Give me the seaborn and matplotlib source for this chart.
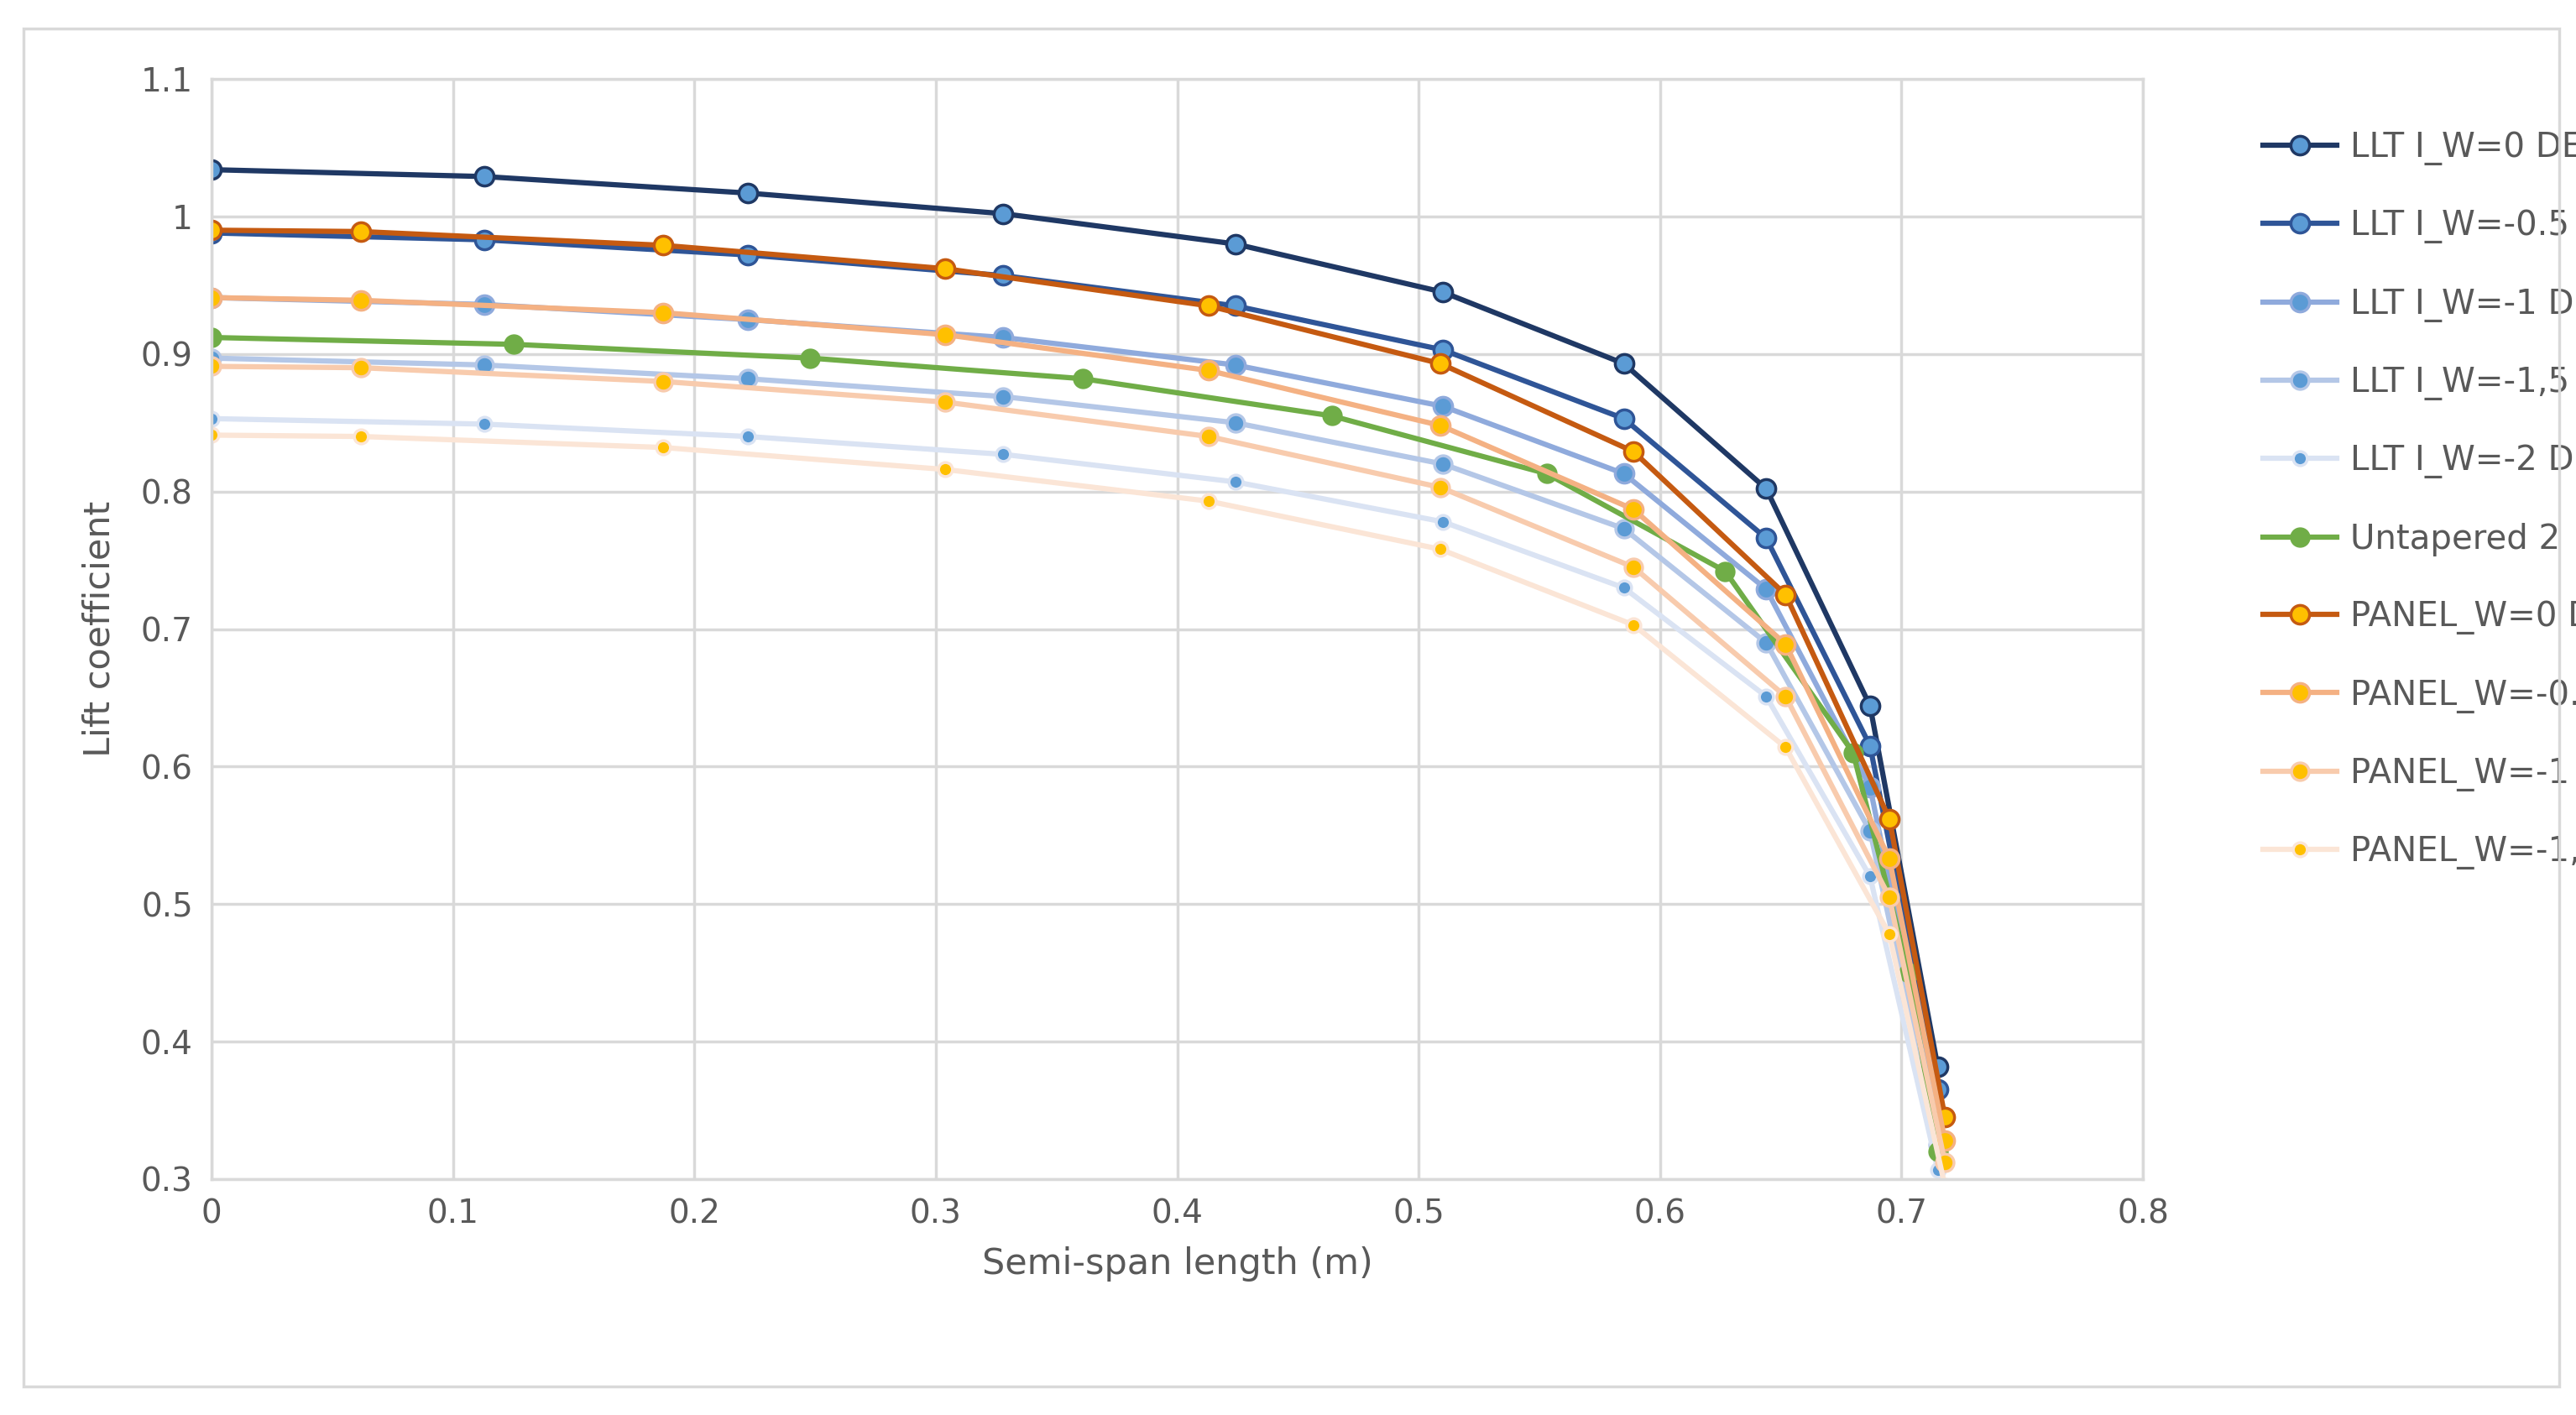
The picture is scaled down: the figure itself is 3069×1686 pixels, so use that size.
import matplotlib
matplotlib.use("Agg")
import matplotlib.pyplot as plt
import seaborn as sns
import pandas as pd
from matplotlib.patches import Rectangle

llt_x = [0, 0.113, 0.222, 0.328, 0.424, 0.51, 0.585, 0.644, 0.687, 0.715]
llt_w0 = [1.034, 1.029, 1.017, 1.002, 0.980, 0.945, 0.893, 0.802, 0.644, 0.382]
llt_w05 = [0.988, 0.983, 0.972, 0.957, 0.935, 0.903, 0.853, 0.766, 0.615, 0.365]
llt_w1 = [0.941, 0.936, 0.925, 0.912, 0.892, 0.862, 0.813, 0.729, 0.585, 0.345]
llt_w15 = [0.897, 0.892, 0.882, 0.869, 0.850, 0.820, 0.773, 0.690, 0.553, 0.325]
llt_w2 = [0.853, 0.849, 0.840, 0.827, 0.807, 0.778, 0.730, 0.651, 0.520, 0.307]
unt_x = [0, 0.125, 0.248, 0.361, 0.464, 0.553, 0.627, 0.68, 0.703, 0.715]
unt_y = [0.912, 0.907, 0.897, 0.882, 0.855, 0.813, 0.742, 0.610, 0.450, 0.320]
pan_x = [0, 0.062, 0.187, 0.304, 0.413, 0.509, 0.589, 0.652, 0.695, 0.718]
pan_w0 = [0.990, 0.989, 0.979, 0.962, 0.935, 0.893, 0.829, 0.725, 0.562, 0.345]
pan_w05 = [0.941, 0.939, 0.930, 0.914, 0.888, 0.848, 0.787, 0.689, 0.533, 0.328]
pan_w1 = [0.891, 0.890, 0.880, 0.865, 0.840, 0.803, 0.745, 0.651, 0.505, 0.312]
pan_w15 = [0.841, 0.840, 0.832, 0.816, 0.793, 0.758, 0.703, 0.614, 0.478, 0.295]

series = [
    ("LLT I_W=0 DEG", llt_x, llt_w0, "#1F3864", "#5B9BD5", "#1F3864", 16, 4.5),
    ("LLT I_W=-0.5 DEG", llt_x, llt_w05, "#2F5597", "#5B9BD5", "#2F5597", 16, 4.5),
    ("LLT I_W=-1 DEG", llt_x, llt_w1, "#8FAADC", "#5B9BD5", "#8FAADC", 16, 4.5),
    ("LLT I_W=-1,5 DEG", llt_x, llt_w15, "#B4C7E7", "#5B9BD5", "#B4C7E7", 15, 4.5),
    ("LLT I_W=-2 DEG", llt_x, llt_w2, "#DAE3F3", "#5B9BD5", "#DAE3F3", 12, 4.5),
    ("Untapered 2", unt_x, unt_y, "#70AD47", "#70AD47", "#70AD47", 15, 4.5),
    ("PANEL_W=0 DEG", pan_x, pan_w0, "#C55A11", "#FFC000", "#C55A11", 16, 4.5),
    ("PANEL_W=-0.5 DEG", pan_x, pan_w05, "#F4B183", "#FFC000", "#F4B183", 16, 4.5),
    ("PANEL_W=-1 DEG", pan_x, pan_w1, "#F8CBAD", "#FFC000", "#F8CBAD", 15, 4.5),
    ("PANEL_W=-1,5 DEG", pan_x, pan_w15, "#FBE5D6", "#FFC000", "#FBE5D6", 12, 4.5),
]

W, H = 3069, 1686
fig = plt.figure(figsize=(W/100, H/100), dpi=100)
ax = fig.add_axes([252/W, 1-1405/H, (2553-252)/W, (1405-94)/H])
fig.patches.append(Rectangle((28/W, 34/H), (3049-28)/W, (1652-34)/H,
                             transform=fig.transFigure, fill=False, edgecolor="#D9D9D9", lw=2.5))

for name, xs, ys, lc, mfc, mec, ms, lw in series:
    df = pd.DataFrame({"x": xs, "y": ys})
    sns.lineplot(data=df, x="x", y="y", ax=ax, color=lc, lw=lw, marker="o",
                 markersize=ms, markerfacecolor=mfc, markeredgecolor=mec,
                 markeredgewidth=2.5, label=name, sort=False)

ax.set_xlim(0, 0.8)
ax.set_ylim(0.3, 1.1)
ax.set_xticks([0, 0.1, 0.2, 0.3, 0.4, 0.5, 0.6, 0.7, 0.8])
ax.set_xticklabels(["0", "0.1", "0.2", "0.3", "0.4", "0.5", "0.6", "0.7", "0.8"])
ax.set_yticks([0.3, 0.4, 0.5, 0.6, 0.7, 0.8, 0.9, 1.0, 1.1])
ax.set_yticklabels(["0.3", "0.4", "0.5", "0.6", "0.7", "0.8", "0.9", "1", "1.1"])
ax.grid(True, color="#D9D9D9", lw=2.5)
ax.set_axisbelow(True)
for s in ax.spines.values():
    s.set_color("#D9D9D9"); s.set_linewidth(2.5)
ax.tick_params(length=0, labelsize=28, labelcolor="#595959", pad=16)
ax.set_xlabel("Semi-span length (m)", fontsize=31, color="#595959", labelpad=14)
ax.set_ylabel("Lift coefficient", fontsize=31, color="#595959", labelpad=20)
ax.legend(loc="upper left", bbox_to_anchor=(1.055, 0.965), frameon=False,
          fontsize=29, labelcolor="#595959", handlelength=2.2, handletextpad=0.4,
          labelspacing=1.3, borderaxespad=0)
fig.savefig("out.png", dpi=100)
